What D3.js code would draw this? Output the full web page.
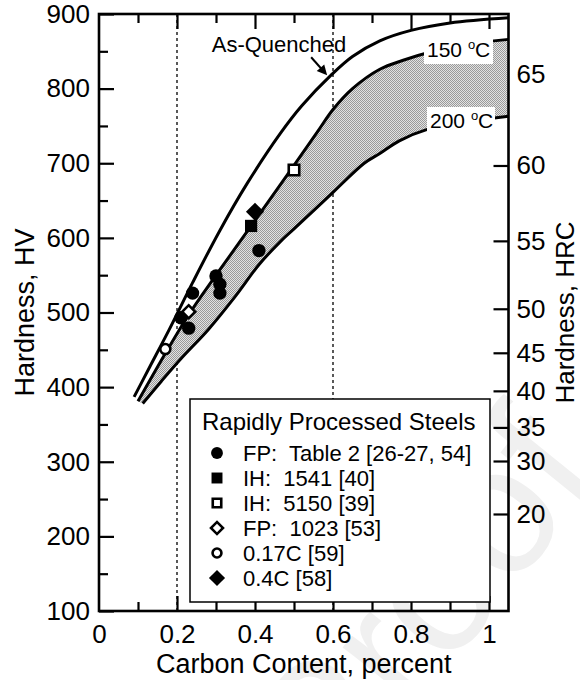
<!DOCTYPE html>
<html>
<head>
  <meta charset="UTF-8">
  <script src="https://d3js.org/d3.v7.min.js"></script>
  <title>Hardness vs Carbon Content</title>
  <style>
    body { margin: 0; background: #fff; }
    svg { display: block; font-family: "Liberation Sans", Arial, sans-serif; }
    .pre { white-space: pre; }
  </style>
</head>
<body>
  <svg width="580" height="680"></svg>
  <script>
    // axis ticks
    const xMajor = [0, 0.2, 0.4, 0.6, 0.8, 1.0];
    const xLabels = ["0", "0.2", "0.4", "0.6", "0.8", "1"];
    const xMinor = [0.1, 0.3, 0.5, 0.7, 0.9];
    const hvMajor = [100, 200, 300, 400, 500, 600, 700, 800, 900];
    const hvMinor = [150, 250, 350, 450, 550, 650, 750, 850];
    const hrcLabels = ["65", "60", "55", "50", "45", "40", "35", "30", "20"];
    const hrcAsHV = [820, 697, 596, 505, 446, 395, 346, 301, 230];

    // hardness curves (carbon %, HV)
    const aqC  = [0.09, 0.13, 0.18, 0.24, 0.31, 0.38, 0.465, 0.52, 0.595, 0.65, 0.72, 0.80, 0.90, 1.05];
    const aqHV = [387, 427, 477, 540, 610, 673, 740, 777, 818, 843, 864, 878, 888, 895];
    const t150C  = [0.10, 0.17, 0.23, 0.30, 0.39, 0.50, 0.56, 0.60, 0.65, 0.72, 0.78, 0.85, 0.95, 1.05];
    const t150HV = [381, 445, 497, 550, 616, 697, 742, 772, 800, 826, 838, 849, 860, 866];
    const t200C  = [0.112, 0.16, 0.21, 0.28, 0.35, 0.41, 0.465, 0.50, 0.60, 0.68, 0.72, 0.77, 0.84, 0.95, 1.05];
    const t200HV = [378, 408, 438, 477, 522, 564, 595, 612, 661, 700, 713, 730, 745, 756, 763];

    // data points
    const fpTableC  = [0.21, 0.23, 0.24, 0.30, 0.31, 0.31, 0.41];
    const fpTableHV = [493, 479, 526, 549, 538, 526, 583];
    const ih1541C = [0.39], ih1541HV = [616];
    const ih5150C = [0.50], ih5150HV = [691];
    const fp1023C = [0.23], fp1023HV = [501];
    const c017C = [0.17], c017HV = [451];
    const c04C = [0.40], c04HV = [635];

    const svg = d3.select("svg");
    const x = d3.scaleLinear().domain([0, 1.05]).range([99, 508.5]);
    const y = d3.scaleLinear().domain([100, 900]).range([611, 14]);
    const FONT = '"Liberation Sans", Arial, sans-serif';

    // faint watermark
    svg.append("text")
      .attr("transform", "translate(431,612) rotate(-51)")
      .attr("text-anchor", "middle")
      .attr("dy", "0.27em")
      .attr("font-size", 180)
      .attr("fill", "#f0f0f0")
      .text("Proof");

    const defs = svg.append("defs");
    const pat = defs.append("pattern").attr("id", "stipple")
      .attr("width", 2).attr("height", 2).attr("patternUnits", "userSpaceOnUse");
    pat.append("rect").attr("width", 2).attr("height", 2).attr("fill", "#e2e2e2");
    pat.append("rect").attr("width", 1).attr("height", 1).attr("fill", "#9a9a9a");
    pat.append("rect").attr("x", 1).attr("y", 1).attr("width", 1).attr("height", 1).attr("fill", "#9a9a9a");

    function addAxis(axis, tx, ty, labelled) {
      const g = svg.append("g").attr("transform", `translate(${tx},${ty})`).call(axis);
      g.select(".domain").remove();
      g.attr("font-family", FONT).attr("font-size", 26);
      g.selectAll("line").attr("stroke", "#000").attr("stroke-width", 2.2);
      g.selectAll("text").attr("fill", "#000");
      if (!labelled) g.selectAll("text").remove();
      return g;
    }

    // ticks (inward)
    addAxis(d3.axisLeft(y).tickValues(hvMajor).tickSize(-15).tickPadding(9), x(0), 0, true);
    addAxis(d3.axisLeft(y).tickValues(hvMinor).tickSize(-9), x(0), 0, false);
    addAxis(d3.axisBottom(x).tickValues(xMajor.slice(1)).tickSize(-15), 0, y(100), false);
    addAxis(d3.axisBottom(x).tickValues(xMinor).tickSize(-9), 0, y(100), false);
    addAxis(d3.axisBottom(x).tickValues(xMajor).tickSize(0).tickPadding(14)
      .tickFormat((d, i) => xLabels[i]), 0, y(100), true);
    addAxis(d3.axisTop(x).tickValues(xMajor.slice(1)).tickSize(-15), 0, y(900), false);
    addAxis(d3.axisTop(x).tickValues(xMinor).tickSize(-9), 0, y(900), false);
    addAxis(d3.axisRight(y).tickValues(hrcAsHV).tickSize(-15).tickPadding(8)
      .tickFormat((d, i) => hrcLabels[i]), x(1.05), 0, true);

    // dotted guide lines
    [0.2, 0.6].forEach(c => {
      svg.append("line")
        .attr("x1", x(c)).attr("x2", x(c))
        .attr("y1", y(900)).attr("y2", y(100))
        .attr("stroke", "#000").attr("stroke-width", 1.3)
        .attr("stroke-dasharray", "3,3");
    });

    const line = d3.line()
      .x(d => x(d[0])).y(d => y(d[1]))
      .curve(d3.curveCatmullRom.alpha(0.5));

    const aq = d3.zip(aqC, aqHV);
    const t150 = d3.zip(t150C, t150HV);
    const t200 = d3.zip(t200C, t200HV);

    // shaded tempering band
    svg.append("path")
      .attr("d", line(t150) + line(t200.slice().reverse()).replace("M", "L") + "Z")
      .attr("fill", "url(#stipple)");

    [aq, t150, t200].forEach(pts => {
      svg.append("path").attr("d", line(pts))
        .attr("fill", "none").attr("stroke", "#000")
        .attr("stroke-width", 3).attr("stroke-linejoin", "round");
    });

    // curve labels
    function tempLabel(txt, bx, by, bw, bh, tx, ty) {
      svg.append("rect").attr("x", bx).attr("y", by).attr("width", bw).attr("height", bh).attr("fill", "#fff");
      const t = svg.append("text").attr("x", tx).attr("y", ty)
        .attr("font-size", 21).attr("fill", "#000");
      t.append("tspan").text(txt + " ");
      t.append("tspan").attr("font-size", 13).attr("dy", -8).text("o");
      t.append("tspan").attr("dy", 8).text("C");
    }
    tempLabel("150", 424, 37, 69, 27, 427, 57);
    tempLabel("200", 427, 107, 68, 26, 430, 128);

    svg.append("text").attr("x", x(0.289)).attr("y", y(849))
      .attr("font-size", 22).attr("fill", "#000").text("As-Quenched");

    // arrow to as-quenched curve
    const ax0 = x(0.544), ay0 = y(842), ax1 = x(0.585), ay1 = y(818);
    const ang = Math.atan2(ay1 - ay0, ax1 - ax0);
    svg.append("line").attr("x1", ax0).attr("y1", ay0)
      .attr("x2", ax1 - 7 * Math.cos(ang)).attr("y2", ay1 - 7 * Math.sin(ang))
      .attr("stroke", "#000").attr("stroke-width", 2);
    svg.append("path")
      .attr("d", "M0,0L-10,-5L-10,5Z")
      .attr("transform", `translate(${ax1},${ay1}) rotate(${ang * 180 / Math.PI})`)
      .attr("fill", "#000");

    // markers
    const sym = (type, size) => d3.symbol().type(type).size(size)();
    const series = [
      { c: fpTableC, v: fpTableHV, d: sym(d3.symbolCircle, 140), fill: "#000", stroke: "none", rot: 0 },
      { c: ih1541C, v: ih1541HV, d: sym(d3.symbolSquare, 150), fill: "#000", stroke: "none", rot: 0 },
      { c: ih5150C, v: ih5150HV, d: sym(d3.symbolSquare, 110), fill: "#fff", stroke: "#000", rot: 0 },
      { c: fp1023C, v: fp1023HV, d: sym(d3.symbolSquare, 85), fill: "#fff", stroke: "#000", rot: 45 },
      { c: c017C, v: c017HV, d: sym(d3.symbolCircle, 80), fill: "#fff", stroke: "#000", rot: 0 },
      { c: c04C, v: c04HV, d: sym(d3.symbolSquare, 165), fill: "#000", stroke: "none", rot: 45 }
    ];
    series.forEach(s => {
      svg.append("g").selectAll("path")
        .data(d3.zip(s.c, s.v))
        .join("path")
        .attr("d", s.d)
        .attr("transform", d => `translate(${x(d[0])},${y(d[1])}) rotate(${s.rot})`)
        .attr("fill", s.fill).attr("stroke", s.stroke).attr("stroke-width", 2.6);
    });

    // legend
    const legendNames = ["FP:  Table 2 [26-27, 54]", "IH:  1541 [40]", "IH:  5150 [39]",
                         "FP:  1023 [53]", "0.17C [59]", "0.4C [58]"];
    const legendMarks = [
      { d: sym(d3.symbolCircle, 110), fill: "#000", stroke: "none", rot: 0 },
      { d: sym(d3.symbolSquare, 120), fill: "#000", stroke: "none", rot: 0 },
      { d: sym(d3.symbolSquare, 72), fill: "#fff", stroke: "#000", rot: 0 },
      { d: sym(d3.symbolSquare, 72), fill: "#fff", stroke: "#000", rot: 45 },
      { d: sym(d3.symbolCircle, 62), fill: "#fff", stroke: "#000", rot: 0 },
      { d: sym(d3.symbolSquare, 130), fill: "#000", stroke: "none", rot: 45 }
    ];
    const lg = svg.append("g");
    lg.append("rect").attr("x", 190).attr("y", 399).attr("width", 300).attr("height", 203)
      .attr("fill", "#fff").attr("stroke", "#000").attr("stroke-width", 1.5);
    lg.append("text").attr("x", 202).attr("y", 430).attr("font-size", 24)
      .attr("fill", "#000").text("Rapidly Processed Steels");
    legendNames.forEach((name, i) => {
      const cy = 453 + i * 25;
      const m = legendMarks[i];
      lg.append("path").attr("d", m.d)
        .attr("transform", `translate(217,${cy}) rotate(${m.rot})`)
        .attr("fill", m.fill).attr("stroke", m.stroke).attr("stroke-width", 2.6);
      lg.append("text").attr("class", "pre").attr("x", 243).attr("y", cy + 8)
        .attr("font-size", 22).attr("fill", "#000").text(name);
    });

    // axis titles
    svg.append("text").attr("x", (x(0) + x(1.05)) / 2).attr("y", 673)
      .attr("text-anchor", "middle").attr("font-size", 27).text("Carbon Content, percent");
    svg.append("text").attr("transform", `translate(34,${(y(100) + y(900)) / 2}) rotate(-90)`)
      .attr("text-anchor", "middle").attr("font-size", 27).text("Hardness, HV");
    svg.append("text").attr("transform", `translate(574,${(y(100) + y(900)) / 2}) rotate(-90)`)
      .attr("text-anchor", "middle").attr("font-size", 26).text("Hardness, HRC");

    // frame
    svg.append("rect").attr("x", x(0)).attr("y", y(900))
      .attr("width", x(1.05) - x(0)).attr("height", y(100) - y(900))
      .attr("fill", "none").attr("stroke", "#000").attr("stroke-width", 2.6);
  </script>
</body>
</html>
